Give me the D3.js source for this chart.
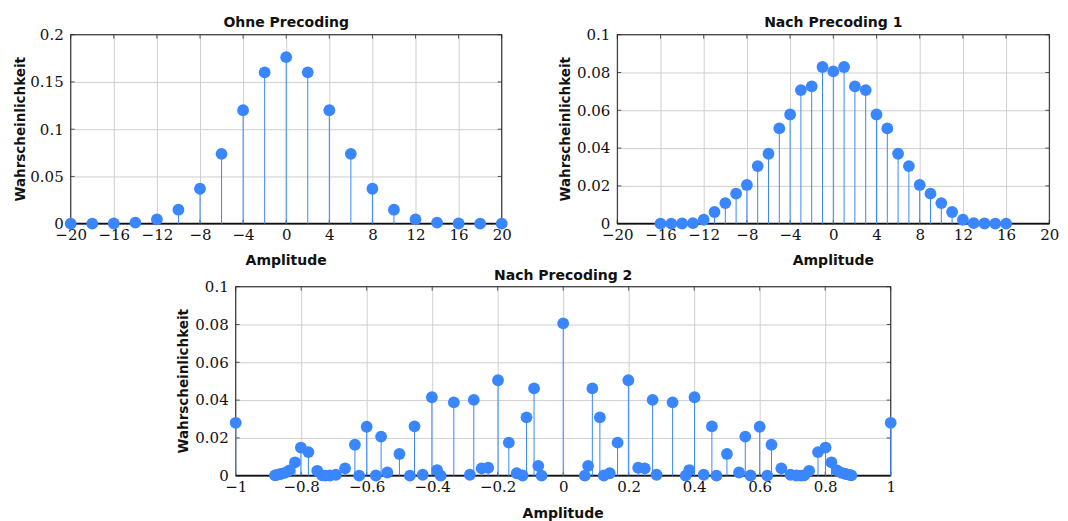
<!DOCTYPE html>
<html><head><meta charset="utf-8">
<script src="https://cdn.jsdelivr.net/npm/d3@7"></script>
<style>body{margin:0;background:#fff}</style></head>
<body>
<svg id="c" width="1068" height="521"></svg>
<script>
// ---- Panel 1: Ohne Precoding ----
const amp1 = [-20,-18,-16,-14,-12,-10,-8,-6,-4,-2,0,2,4,6,8,10,12,14,16,18,20];
const prob1 = [0.0000,0.0000,0.0002,0.0011,0.0046,0.0148,0.0370,0.0739,0.1201,0.1602,0.1762,0.1602,0.1201,0.0739,0.0370,0.0148,0.0046,0.0011,0.0002,0.0000,0.0000];

// ---- Panel 2: Nach Precoding 1 ----
const amp2 = [-16,-15,-14,-13,-12,-11,-10,-9,-8,-7,-6,-5,-4,-3,-2,-1,0,1,2,3,4,5,6,7,8,9,10,11,12,13,14,15,16];
const prob2 = [0.0000,0.0000,0.0001,0.0003,0.0021,0.0062,0.0109,0.0159,0.0205,0.0305,0.0370,0.0504,0.0578,0.0707,0.0727,0.0829,0.0806,0.0829,0.0727,0.0707,0.0578,0.0504,0.0370,0.0305,0.0205,0.0159,0.0109,0.0062,0.0021,0.0003,0.0001,0.0000,0.0000];

// ---- Panel 3: Nach Precoding 2 ----
const amp3 = [-1.000,-0.880,-0.874,-0.863,-0.850,-0.836,-0.819,-0.801,-0.778,-0.751,-0.736,-0.727,-0.712,-0.694,-0.666,-0.636,-0.623,-0.600,-0.572,-0.556,-0.537,-0.500,-0.468,-0.454,-0.429,-0.401,-0.385,-0.374,-0.334,-0.285,-0.273,-0.249,-0.229,-0.199,-0.166,-0.142,-0.124,-0.112,-0.089,-0.076,-0.066,
  0.000,
  0.066,0.076,0.089,0.112,0.124,0.142,0.166,0.199,0.229,0.249,0.273,0.285,0.334,0.374,0.385,0.401,0.429,0.454,0.468,0.500,0.537,0.556,0.572,0.600,0.623,0.636,0.666,0.694,0.712,0.727,0.736,0.751,0.778,0.801,0.819,0.836,0.850,0.863,0.874,0.880,1.000];
const prob3 = [0.0280,0.0002,0.0004,0.0009,0.0015,0.0028,0.0071,0.0149,0.0125,0.0026,0.0002,0.0000,0.0001,0.0005,0.0039,0.0164,0.0000,0.0259,0.0001,0.0207,0.0017,0.0115,0.0000,0.0261,0.0005,0.0415,0.0030,0.0000,0.0388,0.0005,0.0401,0.0039,0.0042,0.0505,0.0175,0.0013,0.0001,0.0309,0.0462,0.0052,0.0000,
  0.0806,
  0.0000,0.0052,0.0462,0.0309,0.0001,0.0013,0.0175,0.0505,0.0042,0.0039,0.0401,0.0005,0.0388,0.0000,0.0030,0.0415,0.0005,0.0261,0.0000,0.0115,0.0017,0.0207,0.0001,0.0259,0.0000,0.0164,0.0039,0.0005,0.0001,0.0000,0.0002,0.0026,0.0125,0.0149,0.0071,0.0028,0.0015,0.0009,0.0004,0.0002,0.0280];

// ---- Tick values / labels ----
const xTicks12 = [-20,-16,-12,-8,-4,0,4,8,12,16,20];
const xLabels12 = ["−20","−16","−12","−8","−4","0","4","8","12","16","20"];
const yTicks1 = [0,0.05,0.1,0.15,0.2];
const yLabels1 = ["0","0.05","0.1","0.15","0.2"];
const yTicks23 = [0,0.02,0.04,0.06,0.08,0.1];
const yLabels23 = ["0","0.02","0.04","0.06","0.08","0.1"];
const xTicks3 = [-1,-0.8,-0.6,-0.4,-0.2,0,0.2,0.4,0.6,0.8,1];
const xLabels3 = ["−1","−0.8","−0.6","−0.4","−0.2","0","0.2","0.4","0.6","0.8","1"];

const titles = ["Ohne Precoding","Nach Precoding 1","Nach Precoding 2"];
const xTitle = "Amplitude";
const yTitle = "Wahrscheinlichkeit";

const BLUE = "#3a86ff";
const svg = d3.select("#c");
const SERIF = "'DejaVu Serif', 'Liberation Serif', serif";
const SANS = "'DejaVu Sans', sans-serif";

function panel(o){
  const g = svg.append("g");
  const x = d3.scaleLinear().domain(o.xd).range([o.l, o.r]);
  const y = d3.scaleLinear().domain(o.yd).range([o.b, o.t]);
  const h = o.b - o.t, w = o.r - o.l;

  // grid
  g.append("g").attr("transform",`translate(0,${o.b})`)
    .call(d3.axisBottom(x).tickValues(o.xt).tickSize(-h).tickFormat(""))
    .call(s=>{s.select(".domain").remove(); s.selectAll("line").attr("stroke","#cfcfcf").attr("stroke-width",1);});
  g.append("g").attr("transform",`translate(${o.l},0)`)
    .call(d3.axisLeft(y).tickValues(o.yt).tickSize(-w).tickFormat(""))
    .call(s=>{s.select(".domain").remove(); s.selectAll("line").attr("stroke","#cfcfcf").attr("stroke-width",1);});

  // inner tick marks (all four sides)
  const tk = 4;
  const tg = g.append("g").attr("stroke","#555").attr("stroke-width",1);
  o.xt.forEach(v=>{
    tg.append("line").attr("x1",x(v)).attr("x2",x(v)).attr("y1",o.b).attr("y2",o.b-tk);
    tg.append("line").attr("x1",x(v)).attr("x2",x(v)).attr("y1",o.t).attr("y2",o.t+tk);
  });
  o.yt.forEach(v=>{
    tg.append("line").attr("y1",y(v)).attr("y2",y(v)).attr("x1",o.l).attr("x2",o.l+tk);
    tg.append("line").attr("y1",y(v)).attr("y2",y(v)).attr("x1",o.r).attr("x2",o.r-tk);
  });

  // frame
  g.append("rect").attr("x",o.l).attr("y",o.t).attr("width",w).attr("height",h)
    .attr("fill","none").attr("stroke","#222").attr("stroke-width",1);
  g.append("line").attr("x1",o.l).attr("x2",o.r).attr("y1",o.b).attr("y2",o.b)
    .attr("stroke","#111").attr("stroke-width",1.8);

  // tick labels
  g.append("g").attr("transform",`translate(0,${o.b})`)
    .call(d3.axisBottom(x).tickValues(o.xt).tickSize(0).tickPadding(7).tickFormat((d,i)=>o.xl[i]))
    .call(s=>{s.select(".domain").remove(); s.selectAll("text").attr("font-family",SERIF).attr("font-size",15).attr("fill","#111").attr("dy","0.62em");});
  g.append("g").attr("transform",`translate(${o.l},0)`)
    .call(d3.axisLeft(y).tickValues(o.yt).tickSize(0).tickPadding(7).tickFormat((d,i)=>o.yl[i]))
    .call(s=>{s.select(".domain").remove(); s.selectAll("text").attr("font-family",SERIF).attr("font-size",15).attr("fill","#111");});

  // data: stems + markers
  const data = o.xs.map((v,i)=>({a:v,p:o.ys[i]}));
  g.append("g").selectAll("line").data(data).join("line")
    .attr("x1",d=>x(d.a)).attr("x2",d=>x(d.a)).attr("y1",y(0)).attr("y2",d=>y(d.p))
    .attr("stroke",BLUE).attr("stroke-width",1);
  g.append("g").selectAll("circle").data(data).join("circle")
    .attr("cx",d=>x(d.a)).attr("cy",d=>y(d.p)).attr("r",5.9).attr("fill",BLUE);

  // titles
  g.append("text").attr("x",(o.l+o.r)/2).attr("y",o.ty).attr("text-anchor","middle")
    .attr("font-family",SANS).attr("font-weight","bold").attr("font-size",14).attr("fill","#111").text(o.title);
  g.append("text").attr("x",(o.l+o.r)/2).attr("y",o.xly).attr("text-anchor","middle")
    .attr("font-family",SANS).attr("font-weight","bold").attr("font-size",14).attr("fill","#111").text(xTitle);
  g.append("text").attr("transform",`translate(${o.ylx},${(o.t+o.b)/2}) rotate(-90)`).attr("text-anchor","middle")
    .attr("font-family",SANS).attr("font-weight","bold").attr("font-size",13.5).attr("fill","#111").text(yTitle);
}

panel({l:70.7,r:501.7,t:34.7,b:223.7,xd:[-20,20],yd:[0,0.2],xt:xTicks12,xl:xLabels12,yt:yTicks1,yl:yLabels1,
  xs:amp1,ys:prob1,title:titles[0],ty:27,xly:265,ylx:25});
panel({l:617.3,r:1049.3,t:34.7,b:223.7,xd:[-20,20],yd:[0,0.1],xt:xTicks12,xl:xLabels12,yt:yTicks23,yl:yLabels23,
  xs:amp2,ys:prob2,title:titles[1],ty:27,xly:265,ylx:570});
panel({l:235.7,r:890.7,t:286.7,b:475.7,xd:[-1,1],yd:[0,0.1],xt:xTicks3,xl:xLabels3,yt:yTicks23,yl:yLabels23,
  xs:amp3,ys:prob3,title:titles[2],ty:280,xly:518,ylx:188});
</script>
</body></html>
